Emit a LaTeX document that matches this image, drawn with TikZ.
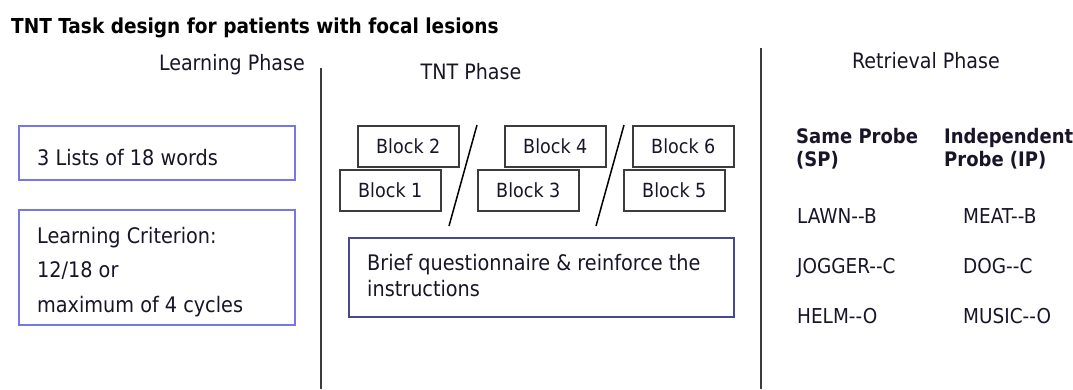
\documentclass[tikz,border=0pt]{standalone}
\usepackage{fontspec}
\setmainfont{DejaVu Sans Condensed}
\usetikzlibrary{positioning}
\definecolor{boxblue}{RGB}{118,118,228}
\definecolor{qblue}{RGB}{72,72,140}
\definecolor{blockgray}{RGB}{60,60,60}
\definecolor{txt}{RGB}{25,20,40}
\newcommand{\dd}{-\kern0pt-}

\begin{document}
\begin{tikzpicture}[x=1pt,y=-1pt,
  every node/.style={font=\fontsize{21.2}{25}\selectfont, text=txt, inner sep=0pt},
  lbox/.style={draw=boxblue, line width=1.6pt, anchor=north west, minimum width=276pt},
  qbox/.style={draw=qblue, line width=1.6pt, anchor=north west, minimum width=385pt, minimum height=79pt},
  boxtext/.style={anchor=base west, align=left, font=\fontsize{21.4}{#1}\selectfont},
  blockbox/.style={draw=blockgray, line width=1.6pt, anchor=north west, minimum width=101pt, minimum height=41pt, font=\fontsize{19.5}{23}\selectfont},
  probe/.style={anchor=base west, font=\fontsize{20.5}{24}\selectfont},
  probehead/.style={anchor=base west, align=left, font=\bfseries\fontsize{20}{23}\selectfont},
  divider/.style={draw=blockgray, line width=1.5pt}]
\useasboundingbox (0,0) rectangle (1073,389);

% title and phase headings
\node[anchor=base west, font=\bfseries\fontsize{20.6}{24}\selectfont, text=black] (title) at (11,33) {TNT Task design for patients with focal lesions};
\node[anchor=base east] (learn) at (305,70) {Learning Phase};
\node[anchor=base] (tnt) at (471,79) {TNT Phase};
\node[anchor=base] (retr) at (926,68) {Retrieval Phase};

% dividers
\draw[divider] (321,68) -- (321,389);
\draw[divider] (761,48) -- (761,389);

% learning phase
\node[lbox, minimum height=54pt] (lists) at (18,125) {};
\node[boxtext=25] (liststxt) at (37,165) {3 Lists of 18 words};
\node[lbox, minimum height=115pt] (crit) at (18,209) {};
\node[boxtext=34.5] (crittxt) at (37,312) {Learning Criterion:\\12/18 or\\maximum of 4 cycles};

% TNT phase
\foreach \name/\px/\py/\lab in {b2/357/125/2, b1/339/169/1, b4/504/125/4, b3/477/169/3, b6/632/125/6, b5/623/169/5}
  \node[blockbox] (\name) at (\px,\py) {Block \lab};
\draw[line width=1.5pt] (477,125) -- (449,226);
\draw[line width=1.5pt] (624,125) -- (596,226);
\node[qbox] (quest) at (348,237) {};
\node[boxtext=26] (questtxt) at (367,296) {Brief questionnaire \& reinforce the\\instructions};

% retrieval phase
\node[probehead] (sp) at (796,166) {Same Probe\\(SP)};
\node[probehead] (ip) at (944,166) {Independent\\Probe (IP)};
\node[probe] (sp1) at (797,223) {LAWN\dd B};
\node[probe] (sp2) at (797,273) {JOGGER\dd C};
\node[probe] (sp3) at (797,323) {HELM\dd O};
\node[probe] (ip1) at (963,223) {MEAT\dd B};
\node[probe] (ip2) at (963,273) {DOG\dd C};
\node[probe] (ip3) at (963,323) {MUSIC\dd O};
\end{tikzpicture}
\end{document}
